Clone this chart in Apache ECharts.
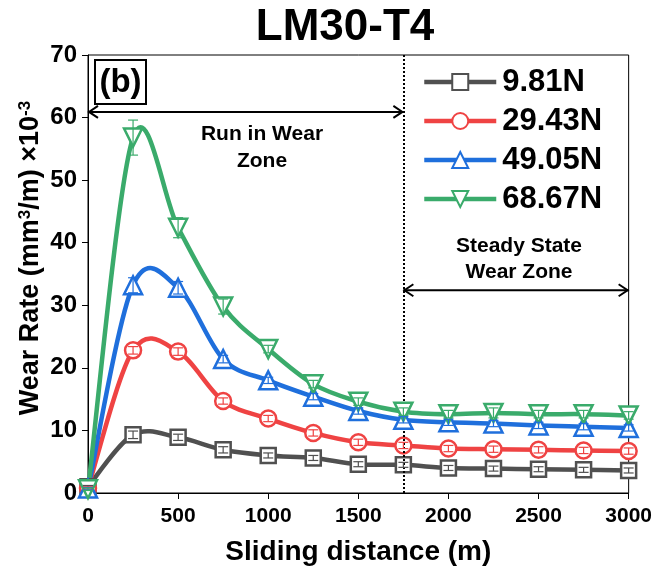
<!DOCTYPE html>
<html>
<head>
<meta charset="utf-8">
<style>
    html, body { margin: 0; padding: 0; background: #fff; }
    #wearChart { width: 655px; height: 574px; }
</style>
<script src="https://cdn.jsdelivr.net/npm/echarts@6/dist/echarts.min.js"></script>
</head>
<body>
<div id="wearChart"></div>
<script>
    // sliding distance (m)
    var distance = [0, 250, 500, 750, 1000, 1250, 1500, 1750, 2000, 2250, 2500, 2750, 3000];
    var loadNames = ['9.81N', '29.43N', '49.05N', '68.67N'];
    // wear rate (mm3/m) x10^-3
    var wear981  = [1.0, 9.3, 8.9, 6.9, 6.0, 5.6, 4.6, 4.5, 4.0, 3.9, 3.8, 3.7, 3.6];
    var wear2943 = [0.8, 22.8, 22.6, 14.7, 11.9, 9.6, 8.1, 7.6, 7.1, 7.0, 6.9, 6.8, 6.7];
    var wear4905 = [0.7, 33.2, 32.8, 21.4, 18.0, 15.4, 13.1, 11.7, 11.3, 11.1, 10.8, 10.6, 10.4];
    var wear6867 = [0.6, 56.8, 42.4, 29.8, 23.0, 17.4, 14.6, 13.0, 12.6, 12.8, 12.6, 12.6, 12.4];
    // error (+/-)
    var err981  = [0.2, 0.6, 0.5, 0.5, 0.4, 0.4, 0.4, 0.4, 0.4, 0.4, 0.4, 0.4, 0.4];
    var err2943 = [0.2, 0.6, 0.6, 0.5, 0.5, 0.5, 0.5, 0.5, 0.5, 0.5, 0.5, 0.5, 0.5];
    var err4905 = [0.2, 1.2, 1.0, 0.6, 0.5, 0.5, 0.5, 0.5, 0.5, 0.5, 0.5, 0.5, 0.5];
    var err6867 = [0.2, 2.8, 1.6, 1.2, 0.6, 0.6, 0.6, 0.6, 0.6, 0.8, 0.6, 0.6, 0.6];
    var xTicks = [0, 500, 1000, 1500, 2000, 2500, 3000];
    // zone arrows: [from x, to x, at y]
    var runInArrow = [0, 1750, 60.9];
    var steadyArrow = [1750, 3000, 32.4];
    var zoneBoundary = 1750;

    var colors = ['#505050', '#ef4343', '#1f6fdc', '#3aab6b'];
    var symbols = ['rect', 'circle', 'triangle', 'triangle'];
    var rotates = [0, 0, 0, 180];
    var sizes = [15, 16, 18, 18];
    var wears = [wear981, wear2943, wear4905, wear6867];
    var errs = [err981, err2943, err4905, err6867];
    var font = '"Liberation Sans", Arial, sans-serif';

    function pairs(vals){
        var out = [];
        for (var i = 0; i < distance.length; i++) out.push([distance[i], vals[i]]);
        return out;
    }
    function errData(vals, e){
        var out = [];
        for (var i = 0; i < distance.length; i++) out.push([distance[i], vals[i] - e[i], vals[i] + e[i]]);
        return out;
    }

    var series = [];
    // smooth curves (catmull-rom through the points, via the axis scales)
    for (var k = 0; k < 4; k++) {
        (function(vals, c){
            series.push({
                type: 'custom',
                z: 2,
                silent: true,
                data: [[0, 0]],
                renderItem: function(params, api){
                    var p = [];
                    for (var i = 0; i < distance.length; i++) p.push(api.coord([distance[i], vals[i]]));
                    var kids = [];
                    for (var i = 0; i < p.length - 1; i++) {
                        var p0 = p[Math.max(i - 1, 0)], p1 = p[i], p2 = p[i + 1], p3 = p[Math.min(i + 2, p.length - 1)];
                        kids.push({
                            type: 'bezierCurve',
                            shape: {
                                x1: p1[0], y1: p1[1], x2: p2[0], y2: p2[1],
                                cpx1: p1[0] + (p2[0] - p0[0]) / 6, cpy1: p1[1] + (p2[1] - p0[1]) / 6,
                                cpx2: p2[0] - (p3[0] - p1[0]) / 6, cpy2: p2[1] - (p3[1] - p1[1]) / 6
                            },
                            style: { stroke: c, lineWidth: 4.5, fill: null, lineCap: 'round' }
                        });
                    }
                    return { type: 'group', children: kids };
                }
            });
        })(wears[k], colors[k]);
    }
    for (var s = 0; s < 4; s++) {
        series.push({
            name: loadNames[s],
            type: 'line',
            data: pairs(wears[s]),
            symbol: symbols[s],
            symbolSize: sizes[s],
            symbolRotate: rotates[s],
            showAllSymbol: true,
            z: 3 + s,
            lineStyle: { color: colors[s], width: 4, opacity: 0 },
            itemStyle: { color: '#fff', borderColor: colors[s], borderWidth: 2.5 }
        });
    }
    for (var t = 0; t < 4; t++) {
        (function(c){
            series.push({
                type: 'custom',
                z: 10,
                silent: true,
                data: errData(wears[t], errs[t]),
                renderItem: function(params, api){
                    var lo = api.coord([api.value(0), api.value(1)]);
                    var hi = api.coord([api.value(0), api.value(2)]);
                    var w = 5;
                    var st = { stroke: c, lineWidth: 1.2 };
                    return { type: 'group', children: [
                        { type: 'line', shape: { x1: lo[0], y1: lo[1], x2: hi[0], y2: hi[1] }, style: st },
                        { type: 'line', shape: { x1: lo[0]-w, y1: lo[1], x2: lo[0]+w, y2: lo[1] }, style: st },
                        { type: 'line', shape: { x1: hi[0]-w, y1: hi[1], x2: hi[0]+w, y2: hi[1] }, style: st }
                    ]};
                }
            });
        })(colors[t]);
    }
    // zone boundary + double-headed arrows (open chevron heads)
    series.push({
        type: 'custom',
        z: 12,
        silent: true,
        data: [runInArrow, steadyArrow],
        renderItem: function(params, api){
            var a = api.coord([api.value(0), api.value(2)]);
            var b = api.coord([api.value(1), api.value(2)]);
            var st = { stroke: '#000', lineWidth: 2, fill: null };
            var h = 10, v = 6;
            return { type: 'group', children: [
                { type: 'line', shape: { x1: a[0], y1: a[1], x2: b[0], y2: b[1] }, style: st },
                { type: 'polyline', shape: { points: [[a[0] + h, a[1] - v], [a[0] + 1, a[1]], [a[0] + h, a[1] + v]] }, style: st },
                { type: 'polyline', shape: { points: [[b[0] - h, b[1] - v], [b[0] - 1, b[1]], [b[0] - h, b[1] + v]] }, style: st }
            ]};
        }
    });
    series.push({
        type: 'line',
        data: [],
        silent: true,
        markLine: {
            silent: true,
            symbol: 'none',
            label: { show: false },
            data: [[{ coord: [zoneBoundary, 0] }, { coord: [zoneBoundary, 70] }]],
            lineStyle: { type: 'dotted', width: 2, color: '#000' }
        }
    });

    var option = {
        backgroundColor: '#fff',
        animation: false,
        grid: { left: 88, right: 25, top: 55, bottom: 81, show: true, borderColor: '#000', borderWidth: 1 },
        legend: {
            orient: 'vertical',
            left: 417,
            top: 61,
            itemWidth: 72,
            itemHeight: 20,
            itemGap: 7,
            data: loadNames,
            lineStyle: { width: 4.5, opacity: 1 },
            textStyle: { fontFamily: font, fontSize: 31, fontWeight: 'bold', color: '#000', lineHeight: 32, padding: [0, 0, 0, 1] }
        },
        xAxis: {
            type: 'value',
            min: 0, max: 3000, interval: 500,
            name: 'Sliding distance (m)',
            nameLocation: 'middle',
            nameGap: 45,
            nameTextStyle: { fontFamily: font, fontSize: 28, fontWeight: 'bold', color: '#000' },
            axisLine: { lineStyle: { color: '#000', width: 1 } },
            axisTick: { show: true, length: 6, lineStyle: { color: '#000' } },
            axisLabel: {
                fontFamily: font, fontSize: 21, fontWeight: 'bold', color: '#000', margin: 13,
                formatter: function(v){ return xTicks.indexOf(v) >= 0 ? String(v) : ''; }
            },
            splitLine: { show: false }
        },
        yAxis: {
            type: 'value',
            min: 0, max: 70, interval: 10,
            axisLine: { lineStyle: { color: '#000', width: 1 } },
            axisTick: { show: true, length: 6, lineStyle: { color: '#000' } },
            axisLabel: { fontFamily: font, fontSize: 24, fontWeight: 'bold', color: '#000', margin: 11 },
            splitLine: { show: false }
        },
        graphic: [
            { type: 'text', x: 345, y: 28, z: 21,
              style: { text: 'LM30-T4', textAlign: 'center', textVerticalAlign: 'middle',
                       font: 'bold 44px "Liberation Sans", Arial', fill: '#000' } },
            { type: 'text', x: 31, y: 258, rotation: Math.PI / 2, z: 21,
              style: {
                  text: '{n|Wear Rate (mm}{s|3}{n|/m) ×10}{s|-3}',
                  textAlign: 'center', textVerticalAlign: 'middle',
                  rich: {
                      n: { fontFamily: font, fontSize: 27, fontWeight: 'bold', fill: '#000' },
                      s: { fontFamily: font, fontSize: 17, fontWeight: 'bold', fill: '#000', verticalAlign: 'top', padding: [0, 0, 12, 0] }
                  }
              } },
            { type: 'rect', x: 95, y: 60, shape: { width: 51, height: 44 },
              style: { fill: '#fff', stroke: '#000', lineWidth: 2 }, z: 20 },
            { type: 'text', x: 120.5, y: 83, z: 21,
              style: { text: '(b)', textAlign: 'center', textVerticalAlign: 'middle',
                       font: 'bold 33px "Liberation Sans", Arial', fill: '#000' } },
            { type: 'text', x: 262, y: 148, z: 21,
              style: { text: 'Run in Wear\nZone', textAlign: 'center', textVerticalAlign: 'middle', lineHeight: 27,
                       font: 'bold 21px "Liberation Sans", Arial', fill: '#000' } },
            { type: 'text', x: 519, y: 259, z: 21,
              style: { text: 'Steady State\nWear Zone', textAlign: 'center', textVerticalAlign: 'middle', lineHeight: 26,
                       font: 'bold 21px "Liberation Sans", Arial', fill: '#000' } }
        ],
        series: series
    };

    var chart = echarts.init(document.getElementById('wearChart'));
    chart.setOption(option);
</script>
</body>
</html>
